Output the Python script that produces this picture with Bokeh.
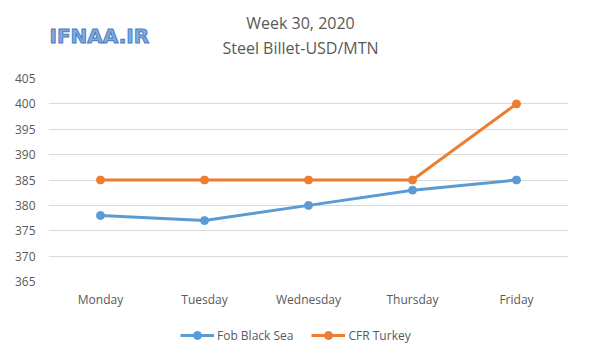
from bokeh.plotting import figure
from bokeh.models import Legend, LegendItem, Label, FixedTicker, Range1d
from bokeh.layouts import column
from bokeh.embed import file_html
from bokeh.resources import INLINE

days = ["Monday", "Tuesday", "Wednesday", "Thursday", "Friday"]
fob_black_sea = [378, 377, 380, 383, 385]
cfr_turkey = [385, 385, 385, 385, 400]
y_ticks = [365, 370, 375, 380, 385, 390, 395, 400, 405]
title_lines = ["Week 30, 2020", "Steel Billet-USD/MTN"]
logo_text = "IFNAA.IR"
series_names = ["Fob Black Sea", "CFR Turkey"]

BLUE = "#5B9BD5"
ORANGE = "#ED7D31"
GRAY = "#595959"
FONT = "Open Sans"
W = 584
TOP_H = 66
MAIN_H = 245
FOOT_H = 48
FRAME_L = 48
FRAME_W = 520

# header strip (title + logo); its frame is aligned with the chart's frame,
# so its x range is set so that data units equal page pixels
head = figure(width=W, height=TOP_H, x_range=Range1d(FRAME_L, FRAME_L + FRAME_W),
              y_range=Range1d(TOP_H, 0),
              output_backend="svg", toolbar_location=None,
              min_border_left=0, min_border_right=0, min_border_top=0, min_border_bottom=0)
head.axis.visible = False
head.grid.visible = False
head.outline_line_color = None
head.add_layout(Label(x=300, y=22, text=title_lines[0], text_align="center", text_baseline="middle",
                      text_font=FONT, text_font_size="16px", text_color=GRAY))
head.add_layout(Label(x=300, y=47, text=title_lines[1], text_align="center", text_baseline="middle",
                      text_font=FONT, text_font_size="16px", text_color=GRAY))
head.add_layout(Label(x=FRAME_L + 1, y=35, text=logo_text, text_align="left", text_baseline="middle",
                      text_font="DejaVu Sans", text_font_style="bold", text_font_size="20px",
                      text_color="#82AADF", text_outline_color="#4A7BC0"))

p = figure(x_range=days, y_range=Range1d(365, 405),
           frame_width=FRAME_W, frame_height=203, width=W, height=MAIN_H,
           output_backend="svg", toolbar_location=None,
           min_border_left=FRAME_L, min_border_right=W - FRAME_L - FRAME_W, min_border_top=78 - TOP_H,
           min_border_bottom=MAIN_H - 203 - (78 - TOP_H))
p.outline_line_color = None
p.xgrid.grid_line_color = None
p.ygrid.grid_line_color = "#D9D9D9"
p.ygrid.grid_line_width = 1

p.yaxis.ticker = FixedTicker(ticks=y_ticks)
for ax in (p.xaxis[0], p.yaxis[0]):
    ax.axis_line_color = None
    ax.major_tick_line_color = None
    ax.minor_tick_line_color = None
    ax.major_tick_out = 0
    ax.major_tick_in = 0
    ax.minor_tick_out = 0
    ax.major_label_text_color = GRAY
    ax.major_label_text_font = FONT
    ax.major_label_text_font_size = "12px"
p.yaxis.major_label_standoff = 13
p.xaxis.major_label_standoff = 9

p.line(days, fob_black_sea, line_color=BLUE, line_width=3)
p.scatter(days, fob_black_sea, size=8, fill_color=BLUE, line_color=BLUE)
p.line(days, cfr_turkey, line_color=ORANGE, line_width=3)
p.scatter(days, cfr_turkey, size=8, fill_color=ORANGE, line_color=ORANGE)

# footer strip holding the legend (its series lie outside this strip's range)
foot = figure(x_range=days, y_range=Range1d(0, 1), width=W, height=FOOT_H,
              output_backend="svg", toolbar_location=None,
              min_border_left=0, min_border_right=0, min_border_top=0, min_border_bottom=0)
foot.axis.visible = False
foot.grid.visible = False
foot.outline_line_color = None
f1 = foot.line(days, fob_black_sea, line_color=BLUE, line_width=3)
g1 = foot.scatter(days, fob_black_sea, size=8, fill_color=BLUE, line_color=BLUE)
f2 = foot.line(days, cfr_turkey, line_color=ORANGE, line_width=3)
g2 = foot.scatter(days, cfr_turkey, size=8, fill_color=ORANGE, line_color=ORANGE)

legend = Legend(items=[LegendItem(label=series_names[0], renderers=[f1, g1]),
                       LegendItem(label=series_names[1], renderers=[f2, g2])],
                orientation="horizontal", location=(132, 14),
                label_text_font=FONT, label_text_font_size="12px", label_text_color=GRAY,
                glyph_width=34, glyph_height=20, label_standoff=3, spacing=18,
                border_line_color=None, background_fill_alpha=0, margin=0, padding=4)
foot.add_layout(legend)

layout = column(head, p, foot, spacing=0)
open("out.html", "w").write(file_html(layout, INLINE))
